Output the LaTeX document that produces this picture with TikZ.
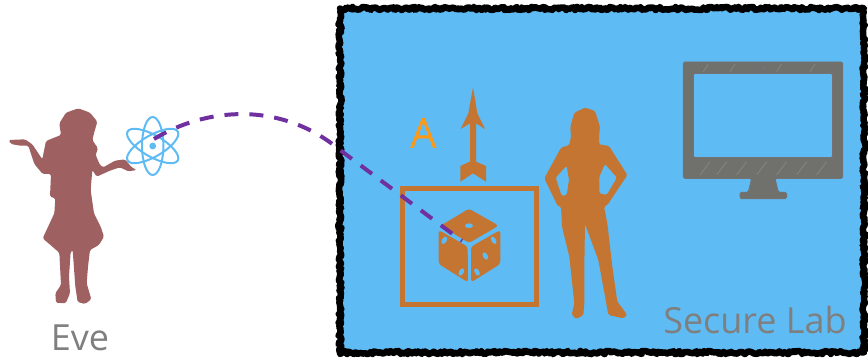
\documentclass[tikz,border=0pt]{standalone}
\usepackage{fontspec}
\setmainfont{Open Sans}
\usepackage{tikz}
\usetikzlibrary{decorations.pathmorphing}
\definecolor{labblue}{RGB}{95,187,244}
\definecolor{evered}{RGB}{158,96,96}
\definecolor{labbrown}{RGB}{196,117,50}
\definecolor{labletter}{RGB}{255,153,20}
\definecolor{linkpurple}{RGB}{112,48,160}
\definecolor{screengray}{RGB}{112,112,108}
\definecolor{captiongray}{RGB}{127,127,127}
\tikzset{
    caption/.style={text=captiongray,inner sep=0pt,font=\fontsize{#1}{#1}\selectfont},
    orbit/.style={draw=labblue,line width=2pt},
    rough/.style={draw=black,line join=round,decorate,decoration={random steps,segment length=1.6pt,amplitude=1.6pt}},
    pip/.style={fill=labblue}
}
\begin{document}
\begin{tikzpicture}[x=1pt,y=-1pt]
    \useasboundingbox (0,0) rectangle (868,358);

    % Define coordinates
    \coordinate (atomC) at (152.7,146);
    \coordinate (linkA) at (154,139);
    \coordinate (linkB) at (340,150);
    \coordinate (linkC) at (462,241);

    % Secure lab, rough border
    \fill[labblue] (340,8) rectangle (863,352);
    \draw[rough,line width=6.5pt] (340,8.5) rectangle (864,352.5);

    % Eve
    \begin{scope}[shift={(0,90)},scale=1/3]
        \fill[evered,rounded corners=1.5pt] (235,55) -- (270,68) -- (292,95) -- (282,130) -- (277,150)
            -- (294,175) -- (287,195) -- (300,225) -- (310,232) -- (345,212) -- (375,208)
            -- (395,232) -- (410,240) -- (385,244) -- (360,232) -- (330,242) -- (290,260)
            -- (277,240) -- (272,300) -- (282,370) -- (302,410) -- (312,440) -- (297,465)
            -- (270,480) -- (264,530) -- (260,580) -- (274,628) -- (255,642) -- (233,636)
            -- (226,590) -- (218,480) -- (212,485) -- (207,560) -- (210,610) -- (197,640)
            -- (168,638) -- (166,610) -- (183,585) -- (178,488) -- (128,445) -- (163,370)
            -- (166,325) -- (150,320) -- (153,252) -- (128,252) -- (103,222) -- (85,167)
            -- (60,167) -- (33,162) -- (26,150) -- (75,148) -- (97,163) -- (127,208)
            -- (138,153) -- (183,135) -- (178,100) -- (198,68) -- cycle;
    \end{scope}

    % Atom
    \foreach \ang in {0,60,120}
        \draw[orbit,rotate around={\ang:(atomC)}] (atomC) ellipse (10.7pt and 29pt);
    \fill[labblue] (atomC) circle (3.4pt);

    % Arrow
    \begin{scope}[shift={(390,80)},scale=1/3]
        \fill[labbrown] (249,22) -- (262,100) -- (285,147) -- (258,130) -- (258,245) -- (288,258)
            -- (288,305) -- (249,280) -- (211,305) -- (211,258) -- (240,245) -- (240,130)
            -- (212,147) -- (235,100) -- cycle;

        % Box round the die
        \draw[labbrown,line width=5.6pt] (38,326) rectangle (439,673);

        % Die faces
        \fill[labbrown,rounded corners=3pt] (237,386) -- (326,437) -- (237,489) -- (152,437) -- cycle;
        \fill[labbrown,rounded corners=3pt] (146,450) -- (233,500) -- (234,607) -- (146,552) -- cycle;
        \fill[labbrown,rounded corners=3pt] (331,450) -- (243,500) -- (243,607) -- (331,552) -- cycle;
        \fill[pip] (237,437) ellipse (12pt and 7pt);
        \foreach \px/\py/\ang in {163/481/-30,214/576/-30,311/481/30,286/528/30,261/576/30}
            \fill[pip,rotate around={\ang:(\px,\py)}] (\px,\py) ellipse (7pt and 12pt);

        % Woman in the lab
        \fill[labbrown,even odd rule,rounded corners=1.5pt] (585,83) -- (615,93) -- (630,140) -- (627,170)
            -- (627,193) -- (657,198) -- (712,285) -- (652,375) -- (642,380) -- (652,430)
            -- (667,560) -- (682,665) -- (712,705) -- (700,715) -- (655,705) -- (648,665)
            -- (625,540) -- (585,432) -- (583,560) -- (583,670) -- (580,705) -- (560,717)
            -- (545,705) -- (553,670) -- (538,530) -- (516,440) -- (513,380) -- (503,378) -- (463,295)
            -- (513,203) -- (538,195) -- (543,170) -- (541,140) -- (553,98) -- cycle
            (530,257) -- (497,293) -- (515,348) -- (530,346) -- (537,300) -- cycle
            (645,252) -- (681,293) -- (650,345) -- (628,340) -- (628,290) -- cycle;
    \end{scope}

    % Monitor
    \begin{scope}[shift={(660,40)},scale=1/3]
        \fill[screengray,draw=black!55,line width=0.9pt,even odd rule,rounded corners=1.5pt]
            (70,66) -- (548,66) -- (548,415) -- (345,415) -- (355,457) -- (380,457) -- (380,476)
            -- (240,476) -- (240,457) -- (265,457) -- (275,415) -- (70,415) -- cycle
            (100,100) -- (518,100) -- (518,353) -- (100,353) -- cycle;
        \foreach \sx in {120,170,230,290,350,410,470}
            \draw[white!15!screengray,line width=0.8pt] (\sx,405) -- (\sx+30,365);
        \foreach \sx in {130,210,350,450}
            \draw[white!15!screengray,line width=0.8pt] (\sx,95) -- (\sx+15,72);
        \fill[black!55] (310,82) circle (6pt);
    \end{scope}

    % Quantum link
    \draw[linkpurple,line width=4pt,dash pattern=on 14pt off 11pt]
        (linkA) .. controls (205,108) and (280,100) .. (linkB) -- (linkC);

    % Labels
    \node[caption=36,anchor=center] (eve) at (80,338) {Eve};
    \node[caption=36,anchor=center] (lab) at (755,320) {Secure Lab};
    \node[text=labletter,inner sep=0pt,font=\fontsize{42}{42}\selectfont] (letterA) at (424,133) {A};
\end{tikzpicture}
\end{document}
